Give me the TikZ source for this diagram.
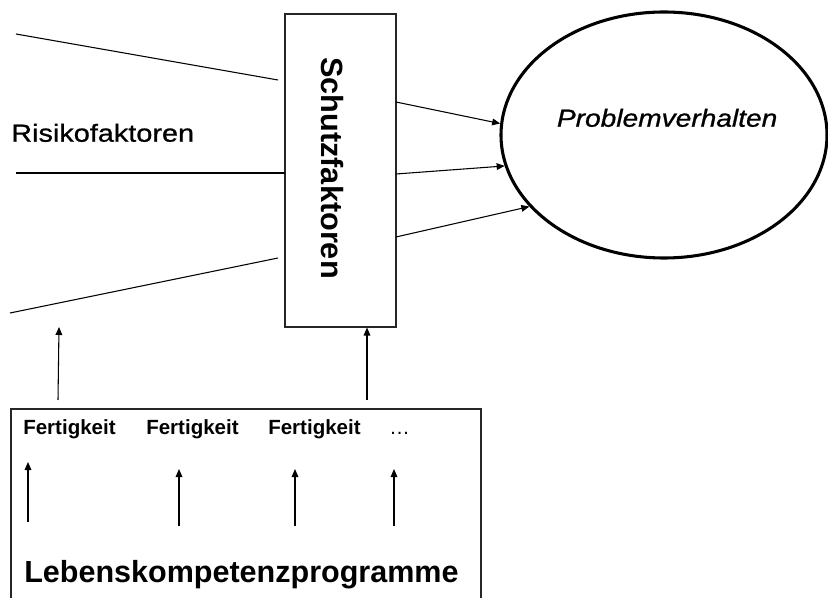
\documentclass[tikz,border=0pt]{standalone}
\usepackage{fontspec}
\setmainfont{Liberation Sans}
\usetikzlibrary{shapes.geometric,arrows.meta}
\tikzset{
  x=0.75pt, y=-0.75pt,
  thin line/.style={draw=black, line width=0.8pt},
  arr/.style={thin line, -{Triangle[length=6pt,width=5pt]}},
  wide/.style={font=\fontsize{18.5}{20}\selectfont\addfontfeatures{FakeBold=0.8}, inner sep=0pt, anchor=base west},
  skill/.style={font=\bfseries\fontsize{15.4}{17}\selectfont, inner sep=0pt, anchor=base west},
}
\begin{document}
\begin{tikzpicture}
\useasboundingbox (0,0) rectangle (828,598);
% nodes
\node[thin line, draw=black!85, minimum width=111*0.75pt, minimum height=313*0.75pt, inner sep=0pt] (sf) at (340.5,170.5) {};
\node[font=\bfseries\fontsize{23}{25}\selectfont, rotate=-90, anchor=base west, inner sep=0pt] (sftext) at (321.7,57) {Schutzfaktoren};
\node[ellipse, draw=black, line width=2.3pt, minimum width=326*0.75pt, minimum height=246*0.75pt, inner sep=0pt] (pv) at (664,135) {};
\node[wide, font=\itshape\fontsize{18.5}{20}\selectfont\addfontfeatures{FakeBold=0.8}] (pvtext) at (556.7,126.7) {\scalebox{1.14}[1]{Problemverhalten}};
\node[wide] (rf) at (11,141.7) {\scalebox{1.17}[1]{Risikofaktoren}};
\draw[thin line, draw=black!85] (11,409) rectangle (481,620);
\node[inner sep=0pt, minimum width=470*0.75pt, minimum height=10pt, anchor=north west] (lk) at (11,409) {};
\node[skill] (f1) at (23,435) {Fertigkeit};
\node[skill] (f2) at (146,435) {Fertigkeit};
\node[skill] (f3) at (268,435) {Fertigkeit};
\node[skill, font=\fontsize{15.4}{17}\selectfont] (f4) at (389,435) {…};
\node[font=\bfseries\fontsize{22.9}{25}\selectfont, inner sep=0pt, anchor=base west] (lkp) at (24,582) {Lebenskompetenzprogramme};
% coordinates
\coordinate (l1a) at (16,34);   \coordinate (l1b) at (278,80);
\coordinate (l2a) at (16,173);  \coordinate (l2b) at (285,173);
\coordinate (l3a) at (10,313);  \coordinate (l3b) at (278,258);
\coordinate (r1) at (396,102);
\coordinate (r2) at (396,174);
\coordinate (r3) at (396,237);
\coordinate (ua) at (58,400);   \coordinate (uat) at (59,327);
\coordinate (ub) at (367,400);
\coordinate (s1) at (28,522);   \coordinate (s1t) at (28,462);
\coordinate (s2) at (179,526);  \coordinate (s2t) at (179,469);
\coordinate (s3) at (295,526);  \coordinate (s3t) at (295,469);
\coordinate (s4) at (394,526);  \coordinate (s4t) at (394,469);
% connectors
\draw[thin line] (l1a) -- (l1b);
\draw[thin line] (l2a) -- (l2b);
\draw[thin line] (l3a) -- (l3b);
\draw[arr] (r1) -- (pv.176.2);
\draw[arr] (r2) -- (pv.191.3);
\draw[arr] (r3) -- (pv.208.1);
\draw[arr] (ua) -- (uat);
\draw[arr] (ub) -- (ub |- sf.south);
\draw[arr] (s1) -- (s1t);
\draw[arr] (s2) -- (s2t);
\draw[arr] (s3) -- (s3t);
\draw[arr] (s4) -- (s4t);
\end{tikzpicture}
\end{document}
